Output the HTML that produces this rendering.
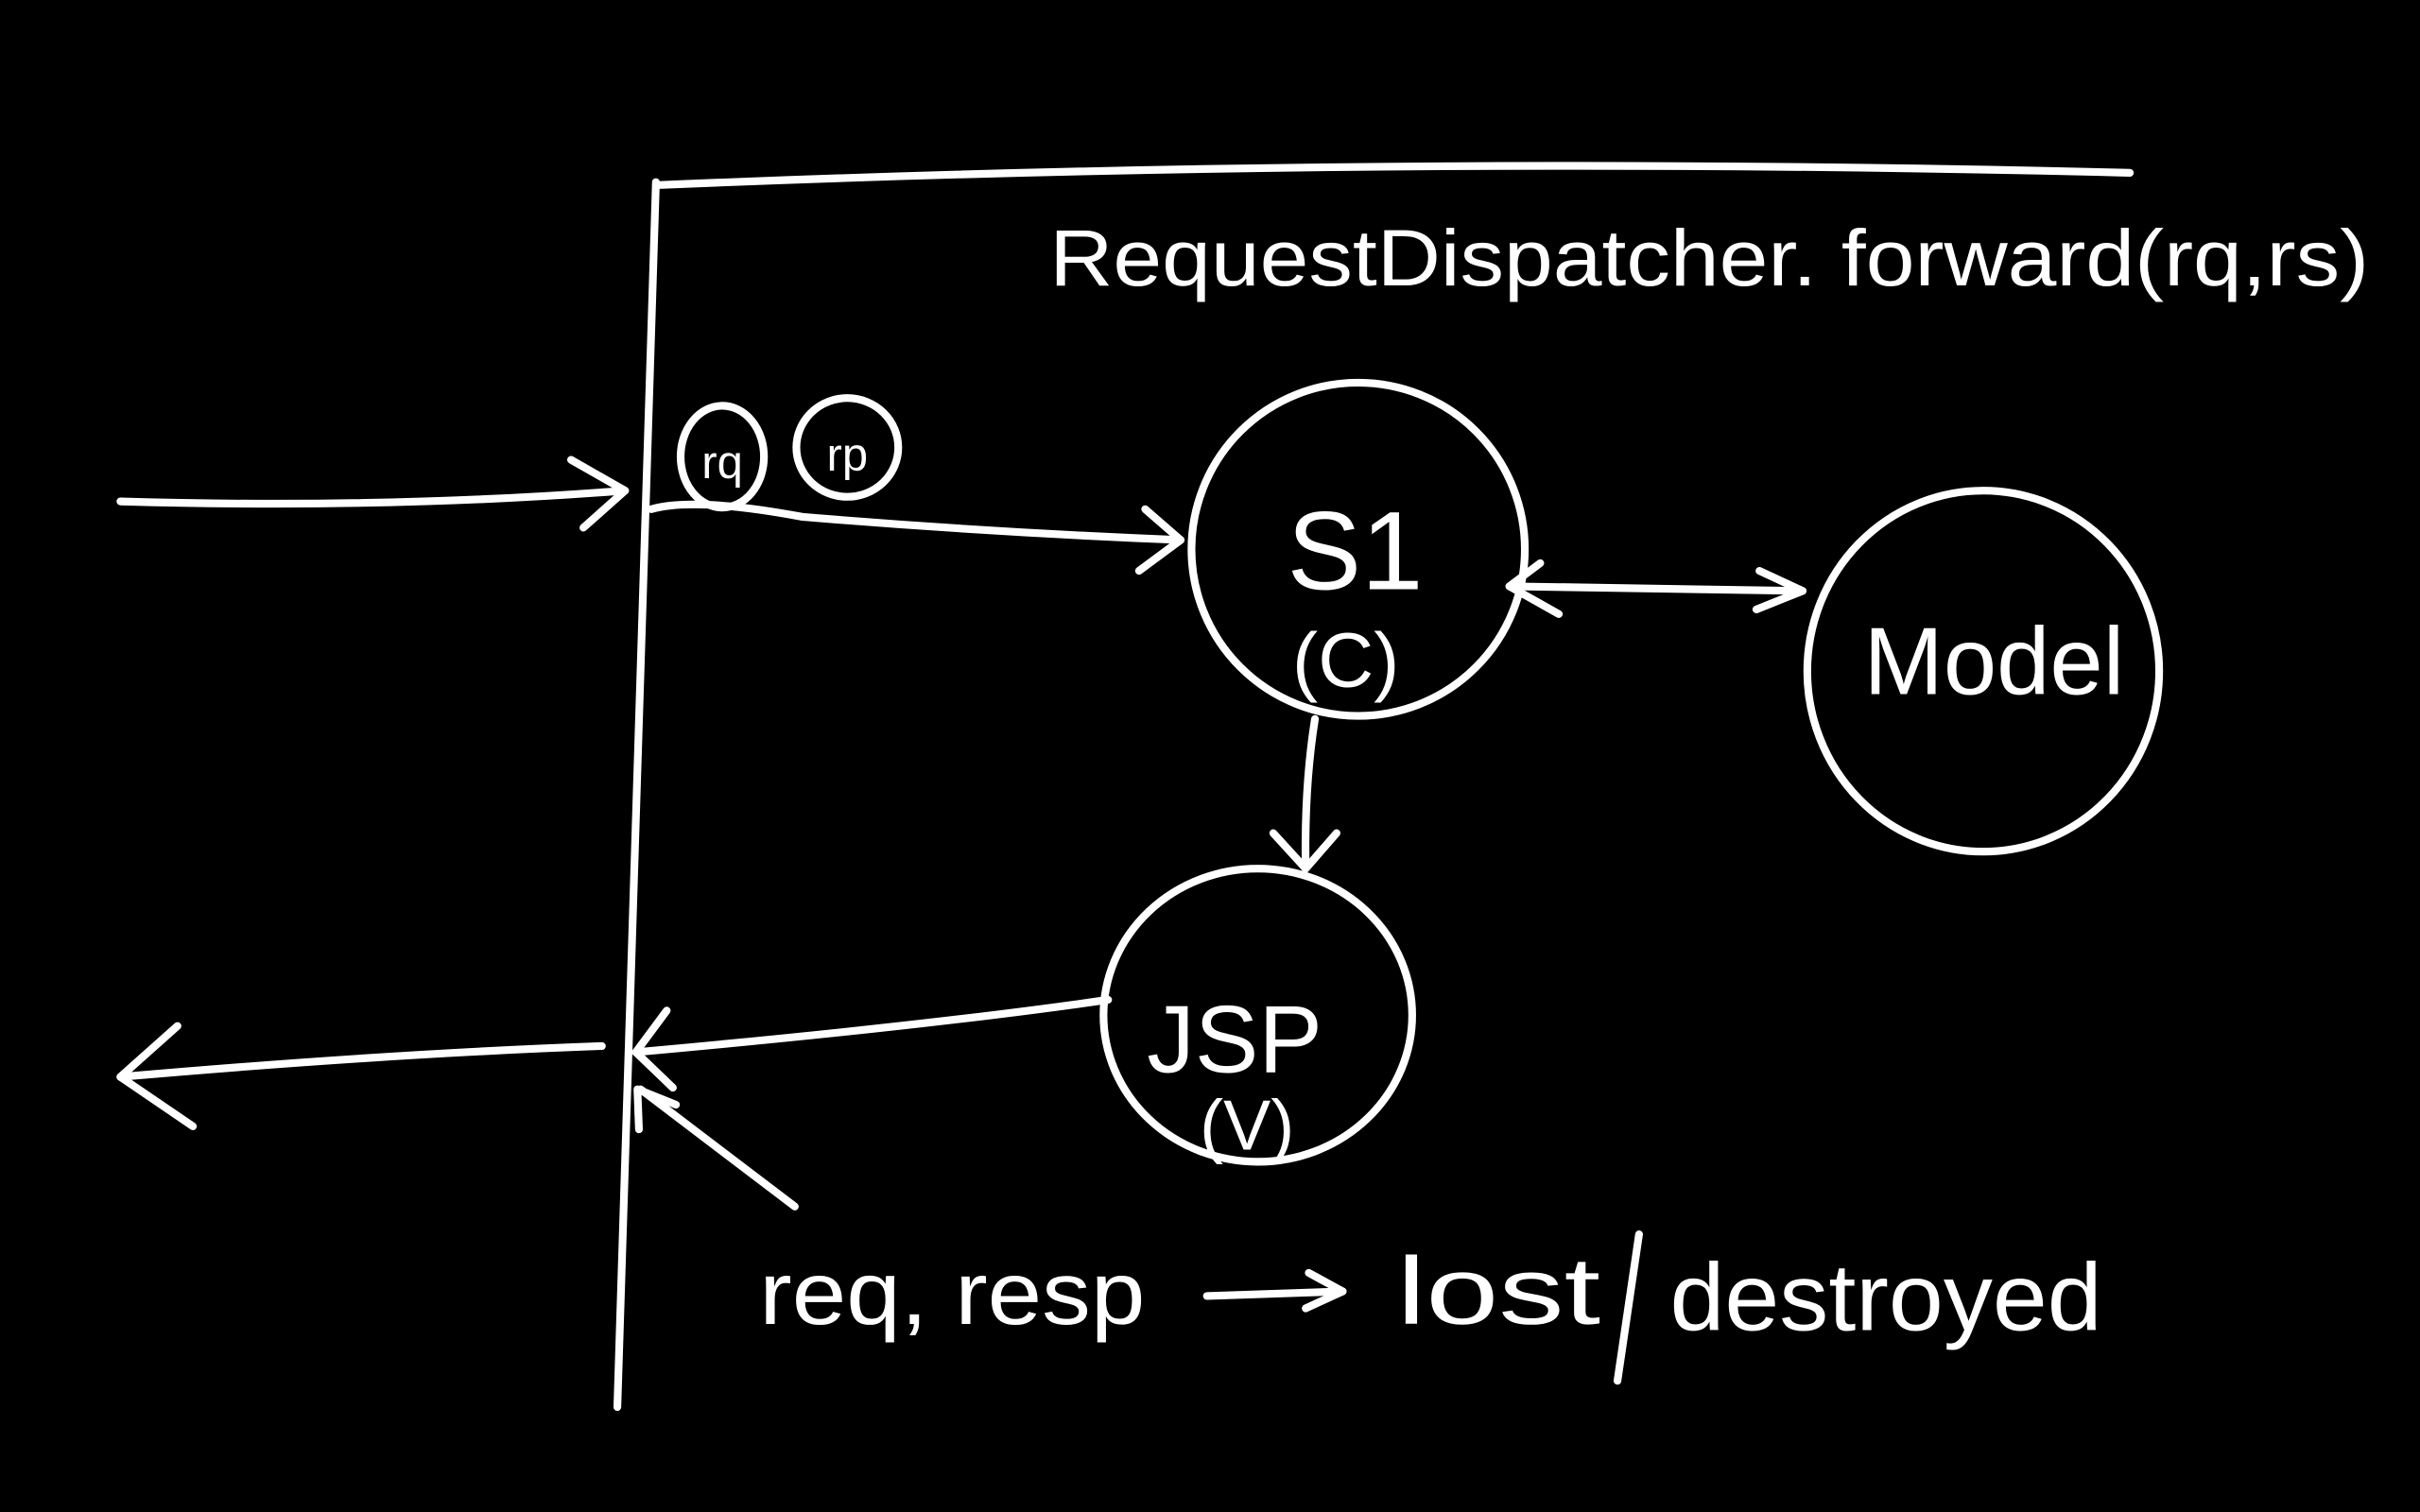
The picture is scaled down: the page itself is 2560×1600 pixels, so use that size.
<!DOCTYPE html>
<html><head><meta charset="utf-8"><style>
html,body{margin:0;padding:0;background:#000;width:2560px;height:1600px;overflow:hidden}
svg{display:block}
text{fill:#fff;font-family:"Liberation Sans",sans-serif}
</style></head><body>
<svg width="2560" height="1600" viewBox="0 0 1568 980" xmlns="http://www.w3.org/2000/svg">
<g fill="none" stroke="#fff" stroke-width="5" stroke-linecap="round" stroke-linejoin="round">
<path d="M425 118 L400 912"/>
<path d="M425 120 Q900 100 1380 112"/>
<ellipse cx="468" cy="296" rx="27" ry="33"/>
<ellipse cx="549" cy="290" rx="33" ry="32"/>
<path d="M78 325 Q250 330 405 318"/>
<path d="M370 298 L405 318 L378 342"/>
<path d="M422 330 Q450 322 520 335 Q640 345 765 350"/>
<path d="M742 330 L765 350 L738 370"/>
<ellipse cx="880" cy="356" rx="108" ry="108"/>
<path d="M978 380 L1168 383"/>
<path d="M998 365 L978 380 L1010 398"/>
<path d="M1140 370 L1168 383 L1138 395"/>
<ellipse cx="1285" cy="435" rx="114" ry="117"/>
<path d="M852 466 Q845 510 846 563"/>
<path d="M825 540 L846 563 L866 540"/>
<ellipse cx="815" cy="658" rx="100" ry="95"/>
<path d="M718 648 Q600 665 412 682"/>
<path d="M432 655 L412 682 L436 705"/>
<path d="M390 678 Q250 683 78 698"/>
<path d="M115 665 L78 698 L125 730"/>
<path d="M515 782 L415 706"/>
<path d="M414 732 L413 706 L438 716"/>
<path d="M782 840 L870 837"/>
<path d="M848 825 L870 837 L846 848"/>
<path d="M1062 800 L1048 895"/>
</g>
<text x="680" y="185" font-size="52" textLength="855" lengthAdjust="spacingAndGlyphs">RequestDispatcher. forward(rq,rs)</text>
<text x="468" y="310" font-size="30" text-anchor="middle">rq</text>
<text x="549" y="305" font-size="30" text-anchor="middle">rp</text>
<text x="878" y="382" font-size="72" text-anchor="middle">S1</text>
<text x="872" y="445" font-size="50" text-anchor="middle">(C)</text>
<text x="1292" y="450" font-size="62" text-anchor="middle">Model</text>
<text x="800" y="695" font-size="62" text-anchor="middle">JSP</text>
<text x="808" y="745" font-size="46" text-anchor="middle">(V)</text>
<text x="492" y="858" font-size="58" textLength="250" lengthAdjust="spacingAndGlyphs">req, resp</text>
<text x="905" y="858" font-size="62" textLength="132" lengthAdjust="spacingAndGlyphs">lost</text>
<text x="1082" y="862" font-size="62" textLength="280" lengthAdjust="spacingAndGlyphs">destroyed</text>
</svg>
</body></html>
